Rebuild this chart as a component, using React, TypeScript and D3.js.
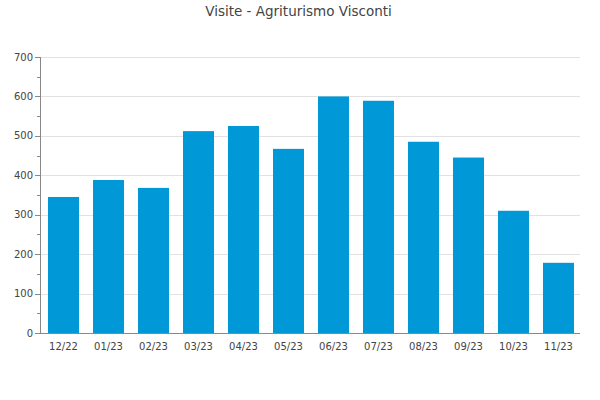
import React from "react";
import * as d3 from "d3";

const months = ["12/22", "01/23", "02/23", "03/23", "04/23", "05/23", "06/23", "07/23", "08/23", "09/23", "10/23", "11/23"];
const visits = [345, 388, 368, 512, 525, 467, 600, 589, 485, 445, 310, 178];
const yTicks = [0, 100, 200, 300, 400, 500, 600, 700];
const yMinorTicks = [50, 150, 250, 350, 450, 550, 650];
const title = "Visite - Agriturismo Visconti";

const W = 600, H = 400;
const left = 40, right = 580, top = 57, bottom = 333;

export default function App() {
  const x = d3.scaleBand<string>().domain(months).range([left + 1, right + 1]).paddingInner(0.311).paddingOuter(0.156);
  const y = d3.scaleLinear().domain([0, 700]).range([bottom, top]);
  const font = "'DejaVu Sans', sans-serif";
  return (
    <svg width={W} height={H} style={{ position: "absolute", left: 0, top: 0, background: "#fff" }} fontFamily={font}>
      <text x={298.5} y={16} textAnchor="middle" fontSize={13.5} fill="#444">{title}</text>
      {yTicks.map((t) => (
        <g key={t}>
          {t > 0 && <line x1={left} x2={right} y1={Math.round(y(t)) + 0.5} y2={Math.round(y(t)) + 0.5} stroke="#e2e2e2" />}
          <line x1={left - 5} x2={left} y1={Math.round(y(t)) + 0.5} y2={Math.round(y(t)) + 0.5} stroke="#888" />
          <text x={left - 7} y={y(t)} dy="0.35em" textAnchor="end" fontSize={10} fill="#444">{t}</text>
        </g>
      ))}
      {yMinorTicks.map((t) => (
        <line key={t} x1={left - 3} x2={left} y1={Math.round(y(t)) + 0.5} y2={Math.round(y(t)) + 0.5} stroke="#888" />
      ))}
      {months.map((m, i) => (
        <g key={m}>
          <rect x={x(m)} y={y(visits[i])} width={x.bandwidth()} height={bottom - y(visits[i])} fill="#0098d6" />
          <text x={(x(m) as number) + x.bandwidth() / 2} y={350} textAnchor="middle" fontSize={10} fill="#444">{m}</text>
        </g>
      ))}
      <line x1={left + 0.5} x2={left + 0.5} y1={top} y2={bottom} stroke="#888" />
      <line x1={left} x2={right} y1={bottom + 0.5} y2={bottom + 0.5} stroke="#888" />
    </svg>
  );
}
